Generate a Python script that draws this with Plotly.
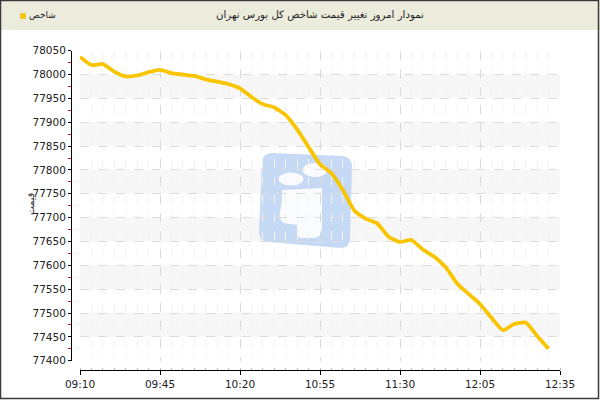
import plotly.graph_objects as go

# ---- data ----
tick_labels = ["09:10", "09:45", "10:20", "10:55", "11:30", "12:05", "12:35"]
tick_index = [0, 7, 14, 21, 28, 35, 42]
index_values = [
    78037, 78020, 78022, 78006, 77996, 77998, 78005, 78010, 78003, 78000,
    77997, 77990, 77985, 77980, 77971, 77953, 77938, 77931, 77915, 77885,
    77848, 77812, 77793, 77758, 77715, 77698, 77688, 77660, 77649, 77653,
    77633, 77618, 77596, 77562, 77540, 77519, 77490, 77464, 77477, 77480,
    77452, 77425,
]
series_name = "شاخص"
title_text = "نمودار امروز تغییر قیمت شاخص کل بورس تهران"
y_title = "قیمت"
y_min, y_max = 77400, 78050
x_max = 42

W, H = 600, 400


def fx(px):
    return px / W


def fy(py):
    return 1 - py / H


FONT = "DejaVu Sans"
idx = list(range(len(index_values)))

fig = go.Figure()
fig.add_trace(go.Scatter(
    x=idx, y=index_values, mode="lines", name=series_name,
    line=dict(color="#F8C500", width=3.8, shape="spline", smoothing=0.5),
    showlegend=False, hoverinfo="x+y",
))
# carrier trace so the offset axes are drawn
fig.add_trace(go.Scatter(
    x=[0], y=[y_min], xaxis="x2", yaxis="y2", mode="markers",
    marker=dict(opacity=0), showlegend=False, hoverinfo="skip",
))

shapes = []
# alternating bands
for lo in range(y_min + 50, y_max, 100):
    shapes.append(dict(type="rect", xref="x domain", yref="y", x0=0, x1=1,
                       y0=lo, y1=lo + 50, fillcolor="#f7f7f7", line_width=0,
                       layer="below"))


# watermark logo (decoration)
def P(x, y):
    return f"{fx(x):.5f},{fy(y):.5f}"


logo = ("M " + P(272, 153) + " L " + P(342, 156) + " Q " + P(352, 157) + " " + P(352, 167)
        + " L " + P(350, 238) + " Q " + P(350, 248) + " " + P(340, 248)
        + " L " + P(269, 242) + " Q " + P(259, 242) + " " + P(259, 232)
        + " L " + P(262, 163) + " Q " + P(262, 153) + " " + P(272, 153) + " Z")
shapes.append(dict(type="path", xref="paper", yref="paper", path=logo,
                   fillcolor="#bcd2f3", opacity=0.85, line_width=0, layer="below"))
body = ("M " + P(282, 190) + " L " + P(322, 188) + " L " + P(322, 229)
        + " Q " + P(322, 238) + " " + P(312, 238) + " L " + P(301, 238)
        + " Q " + P(297, 237) + " " + P(297, 231) + " L " + P(297, 225)
        + " L " + P(284, 223) + " Q " + P(279, 221) + " " + P(280, 212)
        + " L " + P(282, 200) + " Z")
shapes.append(dict(type="path", xref="paper", yref="paper", path=body,
                   fillcolor="#ffffff", opacity=0.9, line_width=0, layer="below"))
for cx, cy, rx, ry in [(291, 179, 12.5, 6.5), (315, 170, 12.5, 7)]:
    shapes.append(dict(type="circle", xref="paper", yref="paper",
                       x0=fx(cx - rx), x1=fx(cx + rx), y0=fy(cy + ry), y1=fy(cy - ry),
                       fillcolor="#ffffff", opacity=0.9, line_width=0, layer="below"))

# header band and frame
shapes.append(dict(type="rect", xref="paper", yref="paper", x0=0, x1=1,
                   y0=fy(30), y1=1, fillcolor="#ececdd", line_width=0, layer="below"))
shapes.append(dict(type="rect", xref="paper", yref="paper", x0=fx(0.5), x1=fx(598.5),
                   y0=fy(398.5), y1=fy(0.5), line=dict(color="#3a3a3a", width=1.5),
                   fillcolor="rgba(0,0,0,0)", layer="above"))
# legend swatch
shapes.append(dict(type="rect", xref="paper", yref="paper", x0=fx(20.5), x1=fx(25.5),
                   y0=fy(18.5), y1=fy(13.5), fillcolor="#F8C500",
                   line=dict(color="#e0b000", width=0.5)))

annotations = [
    dict(text=title_text, xref="paper", yref="paper", x=fx(320), y=fy(15.5),
         showarrow=False, xanchor="center", yanchor="middle",
         font=dict(family=FONT, size=10.2, color="#222")),
    dict(text=series_name, xref="paper", yref="paper", x=fx(27), y=fy(15.5),
         showarrow=False, xanchor="left", yanchor="middle",
         font=dict(family=FONT, size=9, color="#222")),
    dict(text=y_title, xref="paper", yref="paper", x=fx(30), y=fy(204),
         showarrow=False, xanchor="center", yanchor="middle", textangle=-90,
         font=dict(family=FONT, size=9.5, color="#222")),
]

tickfont = dict(family=FONT, size=10.5, color="#222")

fig.update_layout(
    width=W, height=H, margin=dict(l=0, r=0, t=0, b=0, pad=0, autoexpand=False),
    paper_bgcolor="#ffffff", plot_bgcolor="rgba(0,0,0,0)",
    shapes=shapes, annotations=annotations, showlegend=False,
    xaxis=dict(domain=[fx(80), fx(560)], range=[0, x_max], tickmode="array",
               tickvals=tick_index, showticklabels=False, ticks="", automargin=False,
               showgrid=True, gridcolor="#d9d9d9", griddash="dash", gridwidth=1,
               showline=False, zeroline=False,
               minor=dict(dtick=1, tick0=0, showgrid=True, gridcolor="#f2f2f2",
                          griddash="dash", ticks="")),
    yaxis=dict(domain=[fy(360.7), fy(50.7)], range=[y_min, y_max], dtick=50,
               tick0=y_min, showticklabels=False, ticks="", automargin=False,
               showgrid=True, gridcolor="#dcdcdc", griddash="dash",
               showline=False, zeroline=False),
    xaxis2=dict(overlaying="x", anchor="free", position=fy(370), side="bottom",
                range=[0, x_max], tickmode="array", tickvals=tick_index,
                ticktext=tick_labels, ticks="outside", ticklen=4, tickcolor="#000",
                showline=True, linecolor="#000", linewidth=1, showgrid=False,
                zeroline=False, tickfont=tickfont, automargin=False,
                minor=dict(dtick=1, tick0=0, ticks="inside", ticklen=2,
                           tickcolor="#b5b5b5", showgrid=False)),
    yaxis2=dict(overlaying="y", anchor="free", position=fx(71), side="left",
                range=[y_min, y_max], dtick=50, tick0=y_min, ticks="outside",
                tickformat="d", automargin=False,
                ticklen=3, tickcolor="#000", showline=True, linecolor="#000",
                linewidth=1, showgrid=False, zeroline=False, tickfont=tickfont,
                minor=dict(dtick=25, tick0=y_min, ticks="outside", ticklen=3,
                           tickcolor="#cc2222", showgrid=False)),
)

fig.write_html("out.html", config={"displayModeBar": False},
               post_script="document.body.style.margin='0';")
